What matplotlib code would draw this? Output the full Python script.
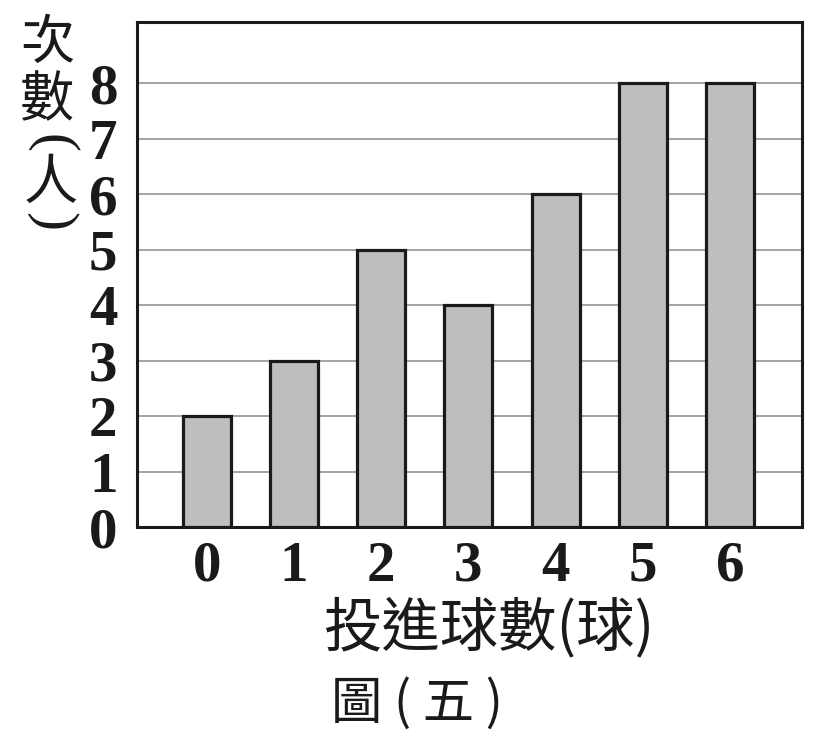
import matplotlib
matplotlib.use("Agg")
import matplotlib.pyplot as plt

categories = ["0", "1", "2", "3", "4", "5", "6"]
counts = [2, 3, 5, 4, 6, 8, 8]
y_ticks = [0, 1, 2, 3, 4, 5, 6, 7, 8]

cjk = ["Noto Sans CJK TC", "DejaVu Sans"]

fig = plt.figure(figsize=(8.24, 7.49), dpi=100)
ax = fig.add_axes([137/824, 1-527/749, (801.7-137)/824, (527-22)/749])

x = list(range(len(categories)))
ax.bar(x, counts, width=0.55, color="#bebebe", edgecolor="#1a1a1a", linewidth=2.3, zorder=3)
ax.set_xlim(-0.8, 6.82)
ax.set_ylim(0, 9.1)
ax.set_yticks(y_ticks)
ax.set_xticks(x)
ax.set_xticklabels(categories)
ax.yaxis.grid(True, color="#8c8c8c", linewidth=1.1, zorder=0)
ax.set_axisbelow(True)
for s in ax.spines.values():
    s.set_linewidth(2.2)
    s.set_color("#1a1a1a")
ax.tick_params(length=0, labelsize=41)
ax.tick_params(axis="x", pad=10)
ax.tick_params(axis="y", pad=14)
for lab in ax.get_xticklabels() + ax.get_yticklabels():
    lab.set_fontfamily("Liberation Serif")
    lab.set_fontweight("bold")
    lab.set_color("#1a1a1a")

# y label (vertical, stacked)
def ft(xp, yp, s, **kw):
    fig.text(xp/824, 1-yp/749, s, ha="center", va="center", color="#1a1a1a", **kw)

ft(47.5, 43.5, "次", family=cjk, fontsize=39)
ft(47.5, 101, "數", family=cjk, fontsize=39)
ft(51, 143, "(", family="Liberation Serif", fontsize=41, rotation=-90)
ft(51, 183, "人", family=cjk, fontsize=39)
ft(51, 221, ")", family="Liberation Serif", fontsize=41, rotation=-90)

# x label and caption
ft(490, 629, "投進球數(球)", family=cjk, fontsize=42)
ft(417, 704, "圖 ( 五 )", family=cjk, fontsize=37)

fig.savefig("out.png", dpi=100, facecolor="white")
